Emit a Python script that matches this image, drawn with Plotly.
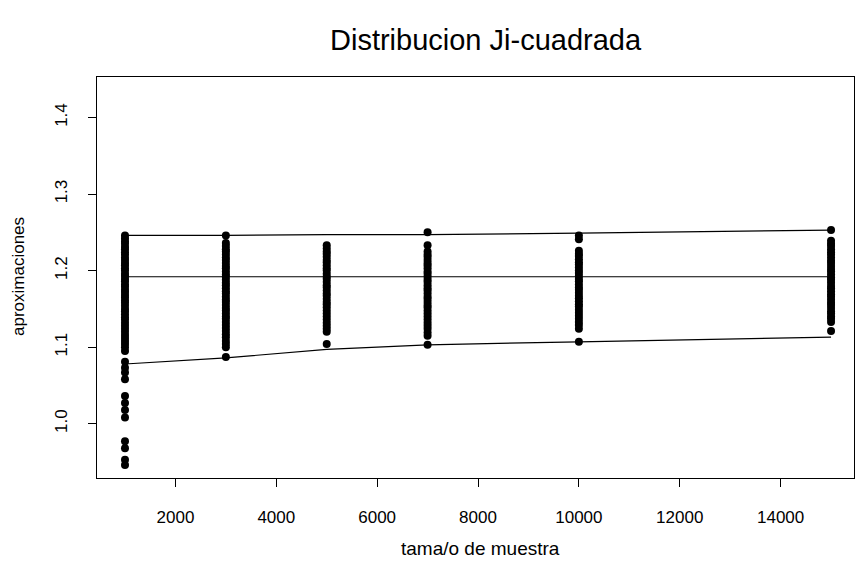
import plotly.graph_objects as go

# sample sizes
sizes = [1000, 3000, 5000, 7000, 10000, 15000]

# approximations read from each column
col_1000 = [1.246, 1.242, 1.238, 1.235, 1.231, 1.228, 1.224, 1.221, 1.217, 1.214,
            1.210, 1.207, 1.203, 1.200, 1.196, 1.193, 1.189, 1.186, 1.182, 1.179,
            1.175, 1.172, 1.168, 1.165, 1.161, 1.158, 1.154, 1.150, 1.147, 1.143,
            1.139, 1.136, 1.132, 1.128, 1.124, 1.120, 1.116, 1.112, 1.108, 1.104,
            1.100, 1.095, 1.081, 1.073, 1.067, 1.058, 1.036, 1.027, 1.018, 1.008,
            0.977, 0.968, 0.953, 0.946]
col_3000 = [1.246, 1.236, 1.232, 1.228, 1.225, 1.221, 1.217, 1.214, 1.210, 1.206,
            1.203, 1.199, 1.195, 1.192, 1.188, 1.184, 1.181, 1.177, 1.173, 1.170,
            1.166, 1.162, 1.159, 1.155, 1.151, 1.148, 1.144, 1.140, 1.137, 1.133,
            1.129, 1.125, 1.121, 1.117, 1.113, 1.108, 1.104, 1.100, 1.087]
col_5000 = [1.233, 1.229, 1.225, 1.222, 1.218, 1.214, 1.211, 1.207, 1.203, 1.200,
            1.196, 1.192, 1.189, 1.185, 1.181, 1.178, 1.174, 1.170, 1.167, 1.163,
            1.159, 1.156, 1.152, 1.148, 1.144, 1.140, 1.136, 1.132, 1.128, 1.124,
            1.120, 1.104]
col_7000 = [1.250, 1.233, 1.225, 1.221, 1.218, 1.214, 1.210, 1.207, 1.203, 1.199,
            1.196, 1.192, 1.188, 1.185, 1.181, 1.177, 1.174, 1.170, 1.166, 1.163,
            1.159, 1.155, 1.152, 1.148, 1.144, 1.140, 1.136, 1.132, 1.128, 1.124,
            1.119, 1.115, 1.103]
col_10000 = [1.246, 1.241, 1.226, 1.222, 1.219, 1.215, 1.211, 1.208, 1.204, 1.200,
             1.197, 1.193, 1.189, 1.186, 1.182, 1.178, 1.175, 1.171, 1.167, 1.164,
             1.160, 1.156, 1.153, 1.149, 1.145, 1.141, 1.137, 1.133, 1.129, 1.124,
             1.107]
col_15000 = [1.253, 1.239, 1.235, 1.232, 1.228, 1.224, 1.221, 1.217, 1.213, 1.210,
             1.206, 1.202, 1.199, 1.195, 1.191, 1.188, 1.184, 1.180, 1.177, 1.173,
             1.169, 1.166, 1.162, 1.158, 1.155, 1.151, 1.147, 1.144, 1.140, 1.137,
             1.133, 1.121]
columns = [col_1000, col_3000, col_5000, col_7000, col_10000, col_15000]

# reference lines
upper_line = [1.246, 1.246, 1.247, 1.247, 1.249, 1.253]
middle_line = [1.192, 1.192, 1.192, 1.192, 1.192, 1.192]
lower_line = [1.078, 1.086, 1.097, 1.103, 1.107, 1.113]

x_ticks = [2000, 4000, 6000, 8000, 10000, 12000, 14000]
x_tick_text = ["2000", "4000", "6000", "8000", "10000", "12000", "14000"]
y_ticks = [1.0, 1.1, 1.2, 1.3, 1.4]
y_tick_text = ["1.0", "1.1", "1.2", "1.3", "1.4"]

fig = go.Figure()
for n, vals in zip(sizes, columns):
    fig.add_trace(go.Scatter(
        x=[n] * len(vals), y=vals, mode="markers",
        marker=dict(symbol="circle", size=8, color="black"),
        showlegend=False, hoverinfo="x+y"))

for line in (upper_line, middle_line, lower_line):
    fig.add_trace(go.Scatter(x=sizes, y=line, mode="lines",
                             line=dict(color="black", width=1.2),
                             showlegend=False))

font_family = "Liberation Sans, Arial, sans-serif"

L, R, T, B = 97, 2, 77, 83
plot_w = 856 - L - R
plot_h = 561 - T - B

fig.update_layout(
    width=856, height=561,
    margin=dict(l=L, r=R, t=T, b=B),
    paper_bgcolor="white", plot_bgcolor="white",
    font=dict(family=font_family, color="black"),
    xaxis=dict(range=[445, 15455], tickvals=x_ticks, ticktext=x_tick_text,
               ticks="outside", ticklen=8,
               tickwidth=1, tickcolor="black", showline=True, linecolor="black",
               linewidth=1.2, mirror=True, showgrid=False, zeroline=False,
               tickfont=dict(size=17), ticklabelstandoff=15),
    yaxis=dict(range=[0.929, 1.453], tickvals=y_ticks, ticktext=y_tick_text,
               ticks="outside", ticklen=8, tickwidth=1, tickcolor="black",
               showline=True, linecolor="black", linewidth=1.2, mirror=True,
               showgrid=False, zeroline=False, tickangle=-90,
               tickfont=dict(size=17), ticklabelstandoff=14),
    annotations=[
        dict(text="Distribucion Ji-cuadrada", xref="paper", yref="paper",
             x=(486 - L) / plot_w, y=1 + (T - 40) / plot_h,
             showarrow=False, font=dict(size=29), yanchor="middle", xanchor="center"),
        dict(text="tama/o de muestra", xref="paper", yref="paper",
             x=(480 - L) / plot_w, y=-(548 - (561 - B)) / plot_h,
             showarrow=False, font=dict(size=19), yanchor="middle", xanchor="center"),
        dict(text="aproximaciones", xref="paper", yref="paper",
             x=-(L - 18) / plot_w, y=((561 - B) - 277) / plot_h,
             showarrow=False, font=dict(size=17), textangle=-90,
             yanchor="middle", xanchor="center"),
    ],
)

fig.write_html("out.html")
